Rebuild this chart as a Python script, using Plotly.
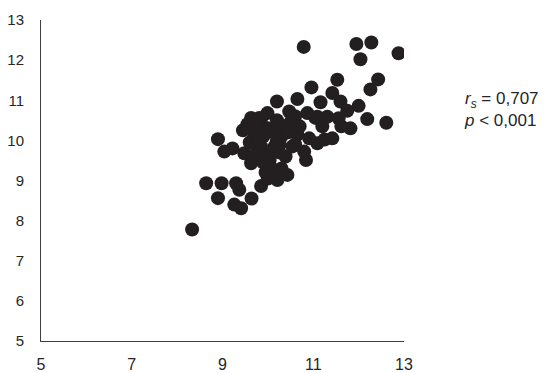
import plotly.graph_objects as go

# values
x_vals = [
    10.79, 11.95, 12.28, 12.04, 12.88, 12.43, 12.26, 11.53, 10.96, 11.42,
    11.60, 12.00, 12.19, 12.61, 10.65, 10.20, 11.16, 11.75, 11.82, 11.42,
    11.09, 9.85, 9.70, 9.81, 9.99, 10.47, 10.87, 11.09, 11.31, 11.56,
    11.62, 10.10, 10.65, 10.91, 11.25, 9.22, 9.48, 9.85, 10.26, 10.54,
    10.80, 9.63, 10.04, 10.39, 10.84, 10.14, 10.43, 10.21, 9.85, 9.64,
    8.33, 8.64, 8.98, 9.30, 9.37, 8.90, 9.26, 9.41, 9.04, 9.66,
    8.90, 9.63, 11.05, 11.20, 9.90, 10.00, 10.20, 10.30, 9.95, 10.10,
    10.20, 10.35, 10.50, 10.05, 9.95, 10.30, 9.75, 9.60, 9.55, 9.75,
    10.60, 10.70, 10.00, 9.90, 10.45, 10.15, 9.80, 10.25, 9.45, 10.60,
]
y_vals = [
    12.33, 12.40, 12.44, 12.02, 12.17, 11.52, 11.27, 11.51, 11.32, 11.18,
    10.97, 10.86, 10.53, 10.44, 11.03, 10.97, 10.95, 10.74, 10.30, 10.05,
    9.93, 10.53, 10.18, 10.56, 10.68, 10.72, 10.68, 10.59, 10.59, 10.55,
    10.35, 10.22, 10.14, 10.05, 10.02, 9.80, 9.68, 9.85, 9.89, 9.85,
    9.72, 9.43, 9.51, 9.60, 9.51, 9.22, 9.14, 9.01, 8.86, 8.55,
    7.78, 8.93, 8.93, 8.93, 8.77, 8.56, 8.40, 8.31, 9.72, 9.48,
    10.03, 10.56, 10.56, 10.35, 10.10, 10.30, 10.50, 10.10, 9.60, 9.70,
    10.00, 10.35, 10.45, 9.35, 9.20, 9.30, 9.70, 9.95, 10.40, 10.35,
    10.60, 10.35, 9.05, 9.45, 10.20, 9.85, 10.00, 9.70, 10.25, 9.90,
]

x_ticks = [5, 7, 9, 11, 13]
y_ticks = [5, 6, 7, 8, 9, 10, 11, 12, 13]

fig = go.Figure(
    go.Scatter(
        x=x_vals,
        y=y_vals,
        mode="markers",
        marker=dict(size=14, color="#231f20", line=dict(width=0)),
        showlegend=False,
    )
)

axis_style = dict(
    showgrid=False,
    zeroline=False,
    showline=True,
    linecolor="#404040",
    linewidth=1,
    ticks="",
    automargin=False,
)
tick_font = dict(family="Liberation Sans, Arial", color="#262626")

fig.update_xaxes(range=[5, 13], tickvals=x_ticks, ticklabelstandoff=9,
                 tickfont=dict(size=16, **tick_font), **axis_style)
fig.update_yaxes(range=[5, 13], tickvals=y_ticks, ticklabelstandoff=13,
                 tickfont=dict(size=15, **tick_font), **axis_style)

fig.add_annotation(
    xref="paper",
    yref="paper",
    x=1.16,
    y=0.72,
    xanchor="left",
    yanchor="middle",
    align="left",
    showarrow=False,
    text="<i>r<sub>s</sub></i> = 0,707<br><i>p</i> < 0,001",
    font=dict(family="Liberation Sans, Arial", size=17, color="#262626"),
)

# the page body adds an 8px offset, so margins are shifted to compensate
fig.update_layout(
    width=553,
    height=373,
    margin=dict(l=33, r=157, t=12, b=40),
    plot_bgcolor="white",
    paper_bgcolor="white",
)

fig.write_html("out.html")
